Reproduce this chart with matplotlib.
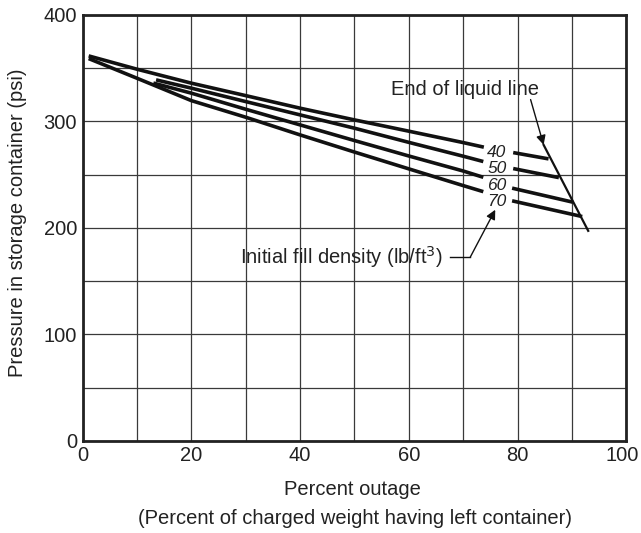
import matplotlib
matplotlib.use("Agg")
import matplotlib.pyplot as plt
import matplotlib.transforms as mtransforms
import numpy as np

plt.rcParams['font.family'] = ['Liberation Sans', 'DejaVu Sans']

# Fill densities (lb/ft^3)
densities = ["40", "50", "60", "70"]

# Left (main) part of each curve: percent outage, pressure (psi)
left_x = {
    "40": [1.1, 10, 20, 30, 40, 50, 60, 70, 73.8],
    "50": [13.5, 20, 30, 40, 50, 60, 70, 73.7],
    "60": [13.0, 20, 30, 40, 50, 60, 70, 73.7],
    "70": [1.1, 10, 20, 30, 40, 50, 60, 70, 73.7],
}
left_y = {
    "40": [361.5, 349.0, 335.9, 324.2, 312.4, 301.4, 290.8, 280.1, 275.8],
    "50": [339.0, 331.2, 318.6, 306.1, 293.6, 280.3, 267.3, 262.3],
    "60": [336.0, 326.5, 311.4, 296.7, 282.0, 267.5, 253.4, 247.5],
    "70": [359.0, 340.5, 319.5, 303.9, 287.3, 271.2, 255.4, 239.7, 234.0],
}
# Right part (after label) of each curve
right_x = {"40": [79.2, 85.7], "50": [79.2, 87.6], "60": [79.0, 90.2], "70": [79.0, 91.9]}
right_y = {"40": [270.7, 264.8], "50": [255.7, 247.2], "60": [237.3, 224.1], "70": [225.4, 210.6]}
label_y = {"40": 270.8, "50": 255.3, "60": 239.8, "70": 224.3}
label_x = 76.2

# End of liquid line
end_x = [84.8, 93.0]
end_y = [277.9, 197.2]

FS = 14.5
TXT = '#222222'

fig = plt.figure(figsize=(6.41, 5.33), dpi=100)
ax = fig.add_axes([0.129, 0.173, 0.848, 0.799])

ax.set_xlim(0, 100)
ax.set_ylim(0, 400)
ax.set_xticks(np.arange(0, 101, 20))
ax.set_yticks(np.arange(0, 401, 100))
ax.set_xticks(np.arange(0, 101, 10), minor=True)
ax.set_yticks(np.arange(0, 401, 50), minor=True)
ax.grid(which='both', color='#3a3a3a', linewidth=0.9)
ax.set_axisbelow(True)
ax.tick_params(which='both', length=0, labelsize=FS, pad=4, colors=TXT)
for s in ax.spines.values():
    s.set_linewidth(2.0)
    s.set_color('#222222')

# nudge the last x tick label so it stays inside the figure
fig.canvas.draw()
last = ax.get_xticklabels()[-1]
last.set_transform(last.get_transform() + mtransforms.ScaledTranslation(-4 / 100, 0, fig.dpi_scale_trans))

lw = 2.6
for d in densities:
    ax.plot(left_x[d], left_y[d], color='#111111', lw=lw, solid_capstyle='butt')
    ax.plot(right_x[d], right_y[d], color='#111111', lw=lw, solid_capstyle='butt')
    ax.text(label_x, label_y[d], d, fontsize=12.5, style='italic', ha='center', va='center', color=TXT)

ax.plot(end_x, end_y, color='#111111', lw=1.6)

ax.text(70.4, 330, "End of liquid line", fontsize=FS, ha='center', va='center', color=TXT)
ax.annotate("", xy=(84.8, 277.9), xytext=(82.4, 320.5),
            arrowprops=dict(arrowstyle='-|>', color='#111111', lw=1.0, mutation_scale=14,
                            shrinkA=0, shrinkB=0))

ax.text(47.6, 172.5, "Initial fill density (lb/ft$^3$)", fontsize=FS, ha='center', va='center', color=TXT)
ax.plot([67.6, 71.3], [172.5, 172.5], color='#111111', lw=1.0)
ax.annotate("", xy=(75.9, 217.0), xytext=(71.3, 172.5),
            arrowprops=dict(arrowstyle='-|>', color='#111111', lw=1.0, mutation_scale=14,
                            shrinkA=0, shrinkB=0))

fig.text(0.55, 0.081, "Percent outage", fontsize=FS, ha='center', va='center', color=TXT)
fig.text(0.554, 0.028, "(Percent of charged weight having left container)", fontsize=FS,
         ha='center', va='center', color=TXT)
fig.text(0.027, 0.583, "Pressure in storage container (psi)", fontsize=FS, rotation=90,
         ha='center', va='center', color=TXT)

fig.savefig("out.png", dpi=100)
